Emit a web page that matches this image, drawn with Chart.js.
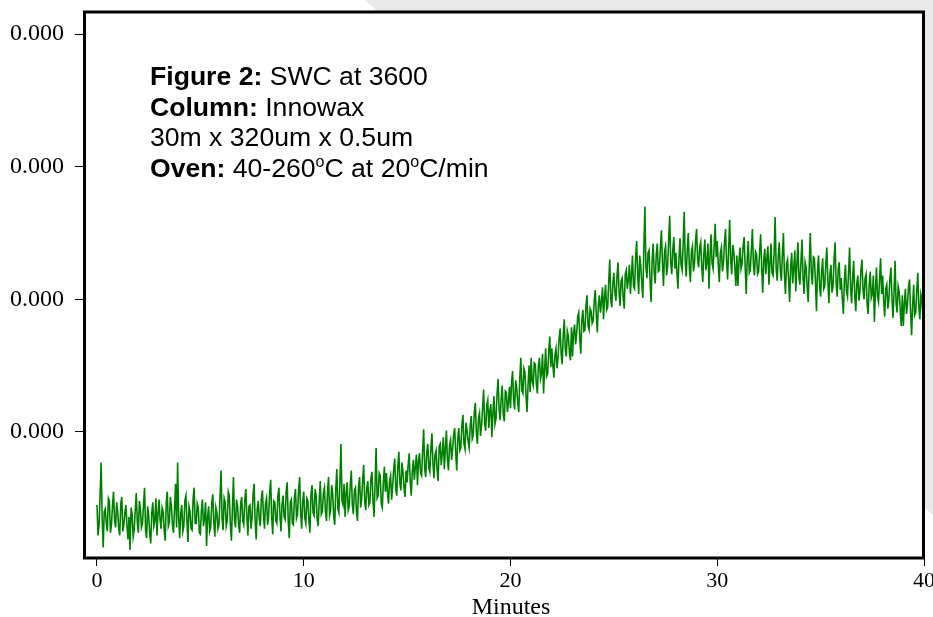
<!DOCTYPE html>
<html>
<head>
<meta charset="utf-8">
<script src="https://cdn.jsdelivr.net/npm/chart.js@4"></script>
<style>
  html, body { margin: 0; padding: 0; background: #fff; }
  #wrap { position: relative; width: 933px; height: 617px; overflow: hidden; }
  #shade { position: absolute; left: 0; top: 0; width: 933px; height: 617px; background: #e9e9e9;
           clip-path: polygon(365px 0, 933px 0, 933px 515px); }
  #chart { position: absolute; left: 0; top: 0; }
  #note { position: absolute; left: 150px; top: 61px; font-family: "Liberation Sans", Arial, sans-serif;
          font-size: 26.6px; line-height: 30.5px; color: #000; white-space: nowrap; }
  #note .deg { font-size: 16px; position: relative; top: -10px; }
  #xtitle { position: absolute; left: 411px; width: 200px; top: 593px; text-align: center;
            font-family: "Liberation Serif", "Times New Roman", serif; font-size: 24px; line-height: 26px; color: #000; }
</style>
</head>
<body>
<div id="wrap">
  <div id="shade"></div>
  <canvas id="chart" width="933" height="617"></canvas>
  <div id="note">
    <div><b>Figure 2:</b> SWC at 3600</div>
    <div><b>Column:</b> Innowax</div>
    <div>30m x 320um x 0.5um</div>
    <div><b>Oven:</b> 40-260<span class="deg">o</span>C at 20<span class="deg">o</span>C/min</div>
  </div>
  <div id="xtitle">Minutes</div>
</div>
<script>
const xTickValues = [0, 10, 20, 30, 40];
const yTickValues = [1, 2, 3, 4];
const yTickLabels = ['0.000', '0.000', '0.000', '0.000'];
const sampleStep = 0.05; // minutes between detector samples

// detector signal, one row per minute
const signal = [
  0.45, 0.22, 0.30, 0.52, 0.77, 0.35, 0.13, 0.40, 0.42, 0.31, 0.25, 0.50, 0.48, 0.24, 0.30, 0.44, 0.55, 0.33, 0.28, 0.47,
  0.40, 0.27, 0.22, 0.46, 0.51, 0.25, 0.30, 0.39, 0.45, 0.29, 0.19, 0.36, 0.11, 0.43, 0.38, 0.21, 0.26, 0.41, 0.54, 0.32,
  0.24, 0.48, 0.42, 0.28, 0.31, 0.45, 0.58, 0.26, 0.20, 0.44, 0.37, 0.23, 0.16, 0.39, 0.47, 0.29, 0.33, 0.50, 0.22, 0.38,
  0.49, 0.34, 0.27, 0.43, 0.40, 0.26, 0.18, 0.47, 0.55, 0.29, 0.32, 0.51, 0.44, 0.30, 0.24, 0.42, 0.61, 0.28, 0.77, 0.36,
  0.20, 0.39, 0.45, 0.25, 0.29, 0.48, 0.52, 0.33, 0.17, 0.44, 0.40, 0.27, 0.26, 0.50, 0.58, 0.31, 0.31, 0.46, 0.43, 0.24,
  0.23, 0.41, 0.49, 0.29, 0.35, 0.47, 0.14, 0.36, 0.44, 0.25, 0.28, 0.46, 0.53, 0.32, 0.21, 0.43, 0.39, 0.27, 0.30, 0.51,
  0.71, 0.35, 0.26, 0.50, 0.47, 0.29, 0.33, 0.55, 0.52, 0.31, 0.18, 0.42, 0.66, 0.34, 0.28, 0.49, 0.44, 0.30, 0.24, 0.46,
  0.51, 0.33, 0.30, 0.49, 0.57, 0.36, 0.22, 0.44, 0.45, 0.27, 0.35, 0.53, 0.61, 0.32, 0.19, 0.42, 0.48, 0.34, 0.29, 0.50,
  0.56, 0.38, 0.27, 0.46, 0.50, 0.30, 0.36, 0.54, 0.64, 0.35, 0.23, 0.48, 0.47, 0.33, 0.31, 0.52, 0.58, 0.37, 0.25, 0.45,
  0.52, 0.36, 0.34, 0.55, 0.62, 0.33, 0.20, 0.47, 0.49, 0.31, 0.30, 0.51, 0.57, 0.35, 0.38, 0.56, 0.66, 0.39, 0.27, 0.48,
  0.55, 0.35, 0.31, 0.50, 0.48, 0.33, 0.24, 0.53, 0.60, 0.39, 0.37, 0.57, 0.52, 0.34, 0.29, 0.49, 0.63, 0.38, 0.40, 0.54,
  0.58, 0.40, 0.33, 0.55, 0.66, 0.37, 0.41, 0.60, 0.54, 0.36, 0.30, 0.57, 0.72, 0.42, 0.39, 0.63, 0.91, 0.48, 0.45, 0.61,
  0.36, 0.54, 0.62, 0.41, 0.44, 0.60, 0.71, 0.45, 0.38, 0.56, 0.58, 0.40, 0.33, 0.59, 0.66, 0.43, 0.49, 0.64, 0.75, 0.47,
  0.41, 0.58, 0.63, 0.45, 0.47, 0.65, 0.70, 0.48, 0.36, 0.61, 0.88, 0.50, 0.52, 0.69, 0.67, 0.46, 0.43, 0.62, 0.74, 0.55,
  0.69, 0.54, 0.46, 0.63, 0.67, 0.49, 0.59, 0.72, 0.80, 0.57, 0.52, 0.74, 0.85, 0.61, 0.56, 0.77, 0.70, 0.58, 0.51, 0.71,
  0.62, 0.75, 0.84, 0.63, 0.52, 0.70, 0.79, 0.64, 0.74, 0.83, 0.60, 0.78, 0.84, 0.69, 0.67, 0.86, 1.02, 0.72, 0.66, 0.85,
  0.91, 0.73, 0.70, 0.88, 0.99, 0.76, 0.65, 0.83, 0.86, 0.71, 0.63, 0.89, 0.91, 0.75, 0.84, 0.96, 0.72, 0.87, 1.01, 0.79,
  0.71, 0.90, 0.94, 0.79, 0.87, 0.98, 1.03, 0.84, 0.71, 0.95, 1.03, 0.86, 0.88, 1.05, 1.13, 0.91, 0.87, 1.07, 1.01, 0.93,
  0.88, 1.04, 1.12, 0.95, 0.98, 1.15, 1.22, 0.99, 0.91, 1.10, 1.14, 0.97, 1.05, 1.18, 1.32, 1.06, 1.01, 1.20, 1.24, 1.03,
  1.16, 1.21, 0.96, 1.14, 1.27, 1.06, 1.10, 1.29, 1.40, 1.17, 1.09, 1.25, 1.35, 1.13, 1.08, 1.31, 1.30, 1.15, 1.22, 1.34,
  1.18, 1.37, 1.46, 1.24, 1.17, 1.39, 1.33, 1.22, 1.15, 1.41, 1.56, 1.31, 1.29, 1.48, 1.45, 1.27, 1.15, 1.36, 1.50, 1.30,
  1.56, 1.38, 1.35, 1.52, 1.51, 1.36, 1.29, 1.50, 1.56, 1.40, 1.44, 1.59, 1.29, 1.47, 1.63, 1.42, 1.44, 1.61, 1.72, 1.49,
  1.63, 1.50, 1.41, 1.58, 1.63, 1.48, 1.56, 1.70, 1.78, 1.59, 1.51, 1.73, 1.85, 1.62, 1.57, 1.76, 1.72, 1.60, 1.54, 1.79,
  1.57, 1.75, 1.81, 1.66, 1.74, 1.87, 1.90, 1.71, 1.59, 1.84, 1.92, 1.76, 1.77, 1.95, 2.03, 1.80, 1.77, 1.93, 1.91, 1.82,
  1.84, 1.99, 2.07, 1.88, 1.75, 1.96, 2.03, 1.90, 1.98, 2.09, 1.85, 2.02, 2.11, 1.92, 1.94, 2.13, 2.30, 2.00, 1.94, 2.12,
  2.20, 2.05, 1.99, 2.17, 2.28, 2.06, 1.95, 2.14, 2.16, 2.01, 1.93, 2.19, 2.22, 2.08, 2.15, 2.26, 2.04, 2.18, 2.33, 2.10,
  2.08, 2.30, 2.44, 2.19, 2.04, 2.33, 2.25, 2.12, 2.01, 2.38, 2.70, 2.24, 2.16, 2.35, 2.37, 2.14, 1.98, 2.29, 2.42, 2.20,
  2.12, 2.34, 2.42, 2.21, 2.22, 2.39, 2.52, 2.27, 2.10, 2.36, 2.40, 2.18, 2.25, 2.45, 2.63, 2.28, 2.19, 2.37, 2.47, 2.23,
  2.35, 2.20, 2.08, 2.31, 2.46, 2.26, 2.22, 2.41, 2.66, 2.29, 2.17, 2.38, 2.50, 2.24, 2.13, 2.36, 2.40, 2.21, 2.27, 2.44,
  2.53, 2.30, 2.24, 2.39, 2.43, 2.25, 2.13, 2.34, 2.45, 2.22, 2.28, 2.42, 2.08, 2.33, 2.49, 2.27, 2.23, 2.40, 2.57, 2.32,
  2.44, 2.26, 2.13, 2.35, 2.39, 2.21, 2.27, 2.43, 2.53, 2.29, 2.15, 2.37, 2.60, 2.30, 2.19, 2.41, 2.36, 2.24, 2.10, 2.33,
  2.10, 2.28, 2.39, 2.23, 2.27, 2.40, 2.47, 2.25, 2.04, 2.31, 2.44, 2.20, 2.22, 2.38, 2.53, 2.26, 2.18, 2.36, 2.34, 2.19,
  2.21, 2.36, 2.49, 2.24, 2.05, 2.30, 2.38, 2.19, 2.31, 2.40, 2.11, 2.27, 2.42, 2.20, 2.18, 2.35, 2.62, 2.23, 2.14, 2.33,
  2.43, 2.22, 2.14, 2.34, 2.50, 2.18, 2.04, 2.27, 2.30, 2.15, 1.98, 2.24, 2.35, 2.12, 2.23, 2.37, 2.06, 2.26, 2.43, 2.17,
  2.11, 2.29, 2.45, 2.16, 2.04, 2.28, 2.24, 2.09, 1.98, 2.26, 2.50, 2.20, 2.11, 2.32, 2.31, 2.13, 1.91, 2.22, 2.33, 2.10,
  2.02, 2.21, 2.31, 2.08, 2.10, 2.27, 2.39, 2.14, 1.97, 2.19, 2.26, 2.05, 2.10, 2.30, 2.43, 2.12, 2.02, 2.23, 2.28, 2.07,
  2.16, 2.00, 1.89, 2.14, 2.26, 2.06, 2.02, 2.20, 2.39, 2.09, 1.97, 2.17, 2.29, 2.03, 1.91, 2.12, 2.18, 1.99, 2.05, 2.22,
  2.30, 2.07, 2.00, 2.16, 2.19, 1.96, 1.89, 2.11, 2.21, 2.01, 2.04, 2.18, 1.83, 2.06, 2.24, 2.02, 1.98, 2.15, 2.31, 2.04,
  2.18, 1.98, 1.87, 2.08, 2.11, 1.93, 1.99, 2.15, 2.24, 2.01, 1.86, 2.05, 2.29, 1.97, 1.90, 2.10, 2.06, 1.92, 1.80, 2.03,
  1.80, 1.97, 2.08, 1.89, 1.96, 2.09, 2.15, 1.91, 1.73, 1.95, 2.11, 1.88, 1.90, 2.06, 2.20, 1.94, 1.85, 2.04, 2.00, 1.87,
  1.93
];

const points = signal.map((v, i) => ({ x: i * sampleStep, y: v }));

const xFont = { family: '"Liberation Serif", "Times New Roman", serif', size: 22 };
const yFont = { family: '"Liberation Serif", "Times New Roman", serif', size: 24 };

const framePlugin = {
  id: 'frame',
  beforeDraw(chart) {
    const { ctx, chartArea: a } = chart;
    ctx.save();
    ctx.fillStyle = '#fff';
    ctx.fillRect(a.left, a.top, a.width, a.height);
    ctx.restore();
  },
  afterDraw(chart) {
    const { ctx, chartArea: a } = chart;
    ctx.save();
    ctx.strokeStyle = '#000';
    ctx.lineWidth = 3;
    ctx.strokeRect(a.left - 0.5, a.top, a.width, a.height);
    ctx.restore();
  }
};

new Chart(document.getElementById('chart'), {
  type: 'line',
  data: {
    datasets: [{
      data: points,
      borderColor: '#008000',
      borderWidth: 1.6,
      pointRadius: 0,
      tension: 0
    }]
  },
  options: {
    responsive: false,
    animation: false,
    devicePixelRatio: 1,
    layout: { padding: { top: 12, right: 9, left: 0, bottom: 0 } },
    plugins: { legend: { display: false }, tooltip: { enabled: false } },
    scales: {
      x: {
        type: 'linear', min: -0.58, max: 40,
        afterBuildTicks(scale) { scale.ticks = xTickValues.map(v => ({ value: v })); },
        afterFit(scale) { scale.height = 59; scale.paddingLeft = 0; scale.paddingRight = 0; },
        ticks: { font: xFont, color: '#000', padding: 2, maxRotation: 0, autoSkip: false, callback: v => String(v) },
        grid: { drawOnChartArea: false, tickLength: 8, color: '#000' },
        border: { display: false }
      },
      y: {
        type: 'linear', min: 0.05, max: 4.166,
        afterBuildTicks(scale) { scale.ticks = yTickValues.map(v => ({ value: v })); },
        afterFit(scale) { scale.width = 85; scale.paddingTop = 0; scale.paddingBottom = 0; },
        ticks: { font: yFont, color: '#000', padding: 11, callback: (v, i) => yTickLabels[i] },
        grid: { drawOnChartArea: false, tickLength: 10, color: '#000' },
        border: { display: false }
      }
    }
  },
  plugins: [framePlugin]
});
</script>
</body>
</html>
